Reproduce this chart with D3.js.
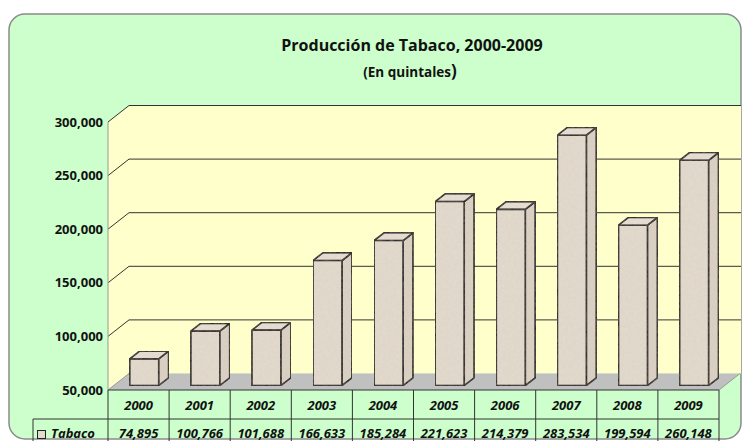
<!DOCTYPE html>
<html><head><meta charset="utf-8">
<script src="https://cdn.jsdelivr.net/npm/d3@7"></script>
<style>html,body{margin:0;padding:0;background:#fff;}svg{display:block;}</style>
</head><body>
<svg id="chart" width="742" height="441"></svg>
<script>
const years = ["2000","2001","2002","2003","2004","2005","2006","2007","2008","2009"];
const tabaco = [74895,100766,101688,166633,185284,221623,214379,283534,199594,260148];
const yTicks = [50000,100000,150000,200000,250000,300000];
const seriesName = "Tabaco";
const titleText = "Producción de Tabaco, 2000-2009";
const subtitleText = "(En quintales";

const svg = d3.select("#chart");
const font = "'Open Sans', 'DejaVu Sans', sans-serif";
const DX = 21, DY = -16.5;           // depth projection vector
const x = d3.scaleBand().domain(years).range([108, 719]).padding(0);
const y = d3.scaleLinear().domain([50000, 300000]).range([390, 122]);
const fmt = d3.format(",");
const P = (px, py, d) => [px + DX * d, py + DY * d];
const poly = pts => "M" + pts.map(p => p.join(",")).join("L") + "Z";

// Texture filter for bars
const defs = svg.append("defs");
const filt = defs.append("filter").attr("id","tex").attr("x",0).attr("y",0).attr("width",1).attr("height",1);
filt.append("feTurbulence").attr("type","fractalNoise").attr("baseFrequency",0.35).attr("numOctaves",2).attr("seed",3).attr("result","n");
filt.append("feColorMatrix").attr("in","n").attr("type","matrix")
  .attr("values","0 0 0 0 0.55  0 0 0 0 0.48  0 0 0 0 0.40  0 0 0 0.22 0").attr("result","c");
filt.append("feComposite").attr("in","c").attr("in2","SourceGraphic").attr("operator","in").attr("result","t");
filt.append("feMerge").call(m => { m.append("feMergeNode").attr("in","SourceGraphic"); m.append("feMergeNode").attr("in","t"); });

// Chart area
svg.append("rect").attr("x",9).attr("y",14).attr("width",732).attr("height",425)
  .attr("rx",16).attr("ry",16).attr("fill","#CCFFCC").attr("stroke","#8a8a8a").attr("stroke-width",1.5);

// Walls
const y0 = y(50000), yTop = y(300000);
const xL = x.range()[0], xR = x.range()[1];
svg.append("path").attr("d", poly([[xL, yTop], P(xL, yTop, 1), [741, yTop + DY], [741, y0 + DY], P(xL, y0, 1), [xL, y0]]))
  .attr("fill","#FFFFCC").attr("stroke","none");
// floor
svg.append("path").attr("d", poly([[xL, y0], P(xL, y0, 1), P(xR, y0, 1), [xR, y0]]))
  .attr("fill","#C0C0C0").attr("stroke","none");

// Gridlines
yTicks.forEach(t => {
  if (t === 50000) return;
  const yy = y(t);
  const b = P(xL, yy, 1);
  svg.append("path").attr("d", `M${xL},${yy}L${b[0]},${b[1]}L741,${b[1]}`)
    .attr("fill","none").attr("stroke","#333").attr("stroke-width",1);
});
svg.append("line").attr("x1",xL).attr("x2",xL).attr("y1",yTop).attr("y2",y0).attr("stroke","#999").attr("stroke-width",1);
// floor edges
{
  const b = P(xL, y0, 1), br = P(xR, y0, 1);
  svg.append("path").attr("d", `M${xL},${y0}L${b[0]},${b[1]}`).attr("stroke","#999").attr("fill","none");
  svg.append("path").attr("d", `M${xR},${y0}L${br[0]},${br[1]}`).attr("stroke","#999").attr("fill","none");
}

// Y labels
svg.append("g").selectAll("text").data(yTicks).join("text")
  .attr("x", 103).attr("y", d => y(d) + 4.5).attr("text-anchor","end")
  .attr("font-family", font).attr("font-weight","bold").attr("font-size", 13).attr("fill","#111")
  .text(d => fmt(d));

// Bars
const d0 = 0.27, d1 = 0.74;
const bw = x.bandwidth() * 0.475;
const barFill = "#E4DBCF", sideFill = "#DCD2C5", topFill = "#E8E0D5";
const bars = svg.append("g");
years.forEach((yr, i) => {
  const cx = x(yr) + x.bandwidth() / 2;
  const l = cx - bw / 2, r = cx + bw / 2;
  const yt = y(tabaco[i]), yb = y(50000);
  const fTL = P(l, yt, d0), fTR = P(r, yt, d0), fBR = P(r, yb, d0), fBL = P(l, yb, d0);
  const bTL = P(l, yt, d1), bTR = P(r, yt, d1), bBR = P(r, yb, d1);
  const g = bars.append("g").attr("stroke","#000").attr("stroke-width",1.6).attr("stroke-linejoin","round");
  g.append("path").attr("d", poly([fTR, bTR, bBR, fBR])).attr("fill", sideFill).attr("filter","url(#tex)");
  g.append("path").attr("d", poly([fTL, bTL, bTR, fTR])).attr("fill", topFill).attr("filter","url(#tex)");
  g.append("path").attr("d", poly([fTL, fTR, fBR, fBL])).attr("fill", barFill).attr("filter","url(#tex)");
});

// Data table
const tbl = svg.append("g");
const rowTop = 390, rowMid = 419, rowBot = 450, legL = 33;
tbl.append("path").attr("d",
  `M${xL},${rowTop}L${xR},${rowTop}M${legL},${rowMid}L${xR},${rowMid}M${legL},${rowMid}L${legL},${rowBot}` +
  years.map(yr => `M${x(yr)},${rowTop}L${x(yr)},${rowBot}`).join("") + `M${xR},${rowTop}L${xR},${rowBot}`)
  .attr("fill","none").attr("stroke","#333").attr("stroke-width",1);
tbl.selectAll("text.yr").data(years).join("text").attr("class","yr")
  .attr("x", d => x(d) + x.bandwidth() / 2).attr("y", 410).attr("text-anchor","middle")
  .attr("font-family", font).attr("font-weight","bold").attr("font-style","italic").attr("font-size",13).attr("fill","#111")
  .text(d => d);
tbl.selectAll("text.val").data(tabaco).join("text").attr("class","val")
  .attr("x", (d, i) => x(years[i]) + x.bandwidth() / 2).attr("y", 437.5).attr("text-anchor","middle")
  .attr("font-family", font).attr("font-weight","bold").attr("font-style","italic").attr("font-size",13).attr("fill","#111")
  .text(d => fmt(d));
tbl.append("rect").attr("x",37.5).attr("y",430.5).attr("width",8).attr("height",8)
  .attr("fill", barFill).attr("stroke","#222").attr("stroke-width",1);
tbl.append("text").attr("x",51).attr("y",437.5).attr("font-family", font).attr("font-weight","bold")
  .attr("font-style","italic").attr("font-size",13).attr("fill","#111").text(seriesName);

// Titles
svg.append("text").attr("x",412).attr("y",50.5).attr("text-anchor","middle")
  .attr("font-family", font).attr("font-weight","bold").attr("font-size",16).attr("fill","#111").text(titleText);
const st = svg.append("text").attr("x",410).attr("y",77).attr("text-anchor","middle")
  .attr("font-family", font).attr("font-weight","bold").attr("font-size",13.5).attr("fill","#111");
st.append("tspan").text(subtitleText);
st.append("tspan").attr("font-size",17).text(")");
</script>
</body></html>
